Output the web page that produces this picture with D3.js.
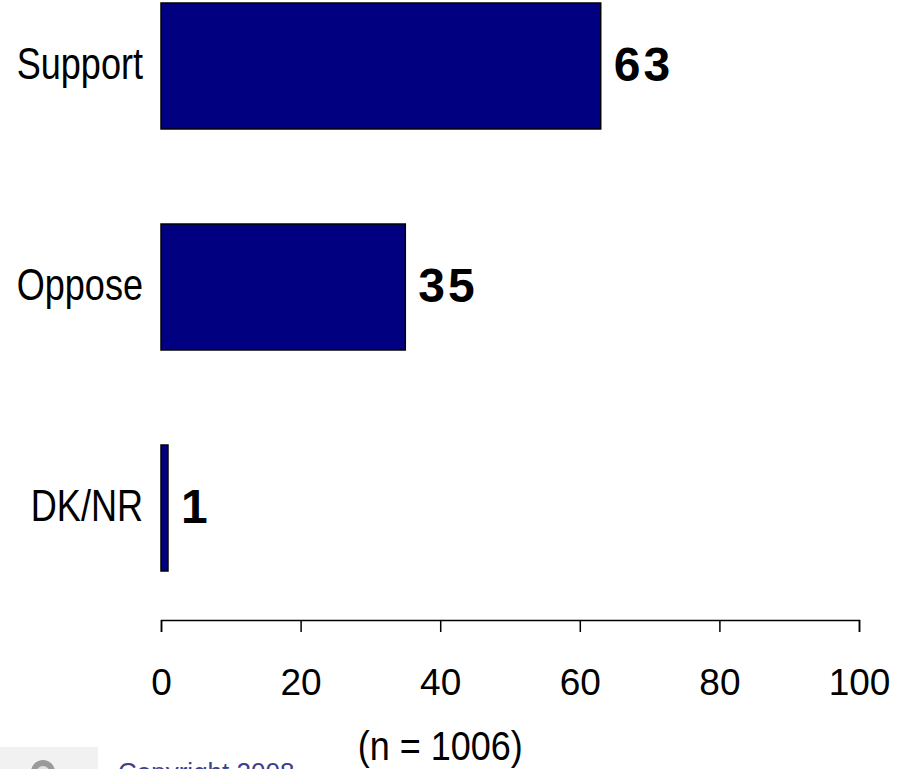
<!DOCTYPE html>
<html><head><meta charset="utf-8">
<script src="https://cdn.jsdelivr.net/npm/d3@7"></script>
<style>
html,body{margin:0;padding:0;background:#fff;}
svg{display:block;}
</style></head>
<body>
<svg id="chart" width="897" height="769"></svg>
<script>
const categories = ["Support", "Oppose", "DK/NR"];
const values = [63, 35, 1];
const tickValues = [0, 20, 40, 60, 80, 100];
const sampleLabel = "(n = 1006)";
const copyright = "Copyright 2008";

const svg = d3.select("#chart");
const x = d3.scaleLinear().domain([0, 100]).range([161, 859]);
const y = d3.scaleBand().domain(categories).range([3, 571]).paddingInner(0.43).paddingOuter(0);
const narrow = 0.82;

// bars
svg.append("g").selectAll("rect").data(categories).join("rect")
  .attr("x", x(0))
  .attr("y", d => y(d))
  .attr("width", (d, i) => x(values[i]) - x(0))
  .attr("height", y.bandwidth())
  .attr("fill", "#000080")
  .attr("stroke", "#000")
  .attr("stroke-width", 1.5);

// value labels
svg.append("g").selectAll("text").data(categories).join("text")
  .attr("x", (d, i) => x(values[i]) + 13)
  .attr("y", d => y(d) + y.bandwidth() / 2 + 15)
  .attr("font-family", "Liberation Sans, Arial, sans-serif")
  .attr("font-weight", "bold")
  .attr("font-size", 48)
  .attr("letter-spacing", 3)
  .attr("fill", "#000")
  .text((d, i) => values[i]);

// category labels (narrow face emulated by horizontal scaling)
svg.append("g").selectAll("text").data(categories).join("text")
  .attr("transform", d => `translate(143,${y(d) + y.bandwidth() / 2 + 13}) scale(${narrow},1)`)
  .attr("text-anchor", "end")
  .attr("font-family", "Liberation Sans, Arial, sans-serif")
  .attr("font-size", 44)
  .attr("fill", "#000")
  .text(d => d);

// axis
const axis = d3.axisBottom(x).tickValues(tickValues).tickSize(12).tickPadding(37);
const gA = svg.append("g").attr("transform", "translate(0,620)").call(axis);
gA.selectAll("path,line").attr("stroke", "#000").attr("stroke-width", 1.5);
gA.selectAll("text")
  .attr("font-family", "Liberation Sans, Arial, sans-serif")
  .attr("font-size", 37)
  .attr("fill", "#000");

// sample size label
svg.append("text")
  .attr("transform", `translate(${x(40)},760) scale(0.9,1)`)
  .attr("text-anchor", "middle")
  .attr("font-family", "Liberation Sans, Arial, sans-serif")
  .attr("font-size", 40)
  .attr("fill", "#000")
  .text(sampleLabel);

// logo & copyright (partially cut off by the bottom edge, as in the source)
const logo = svg.append("g");
logo.append("rect").attr("x", 0).attr("y", 747).attr("width", 98).attr("height", 22).attr("fill", "#f1f1f1");
logo.append("ellipse").attr("cx", 43).attr("cy", 772).attr("rx", 12).attr("ry", 12).attr("fill", "#9a9a9a");
logo.append("ellipse").attr("cx", 43).attr("cy", 774).attr("rx", 7).attr("ry", 8).attr("fill", "#e0e0e0");
svg.append("text")
  .attr("x", 118)
  .attr("y", 781)
  .attr("font-family", "Liberation Sans, Arial, sans-serif")
  .attr("font-size", 26)
  .attr("fill", "#3b3f8c")
  .text(copyright);
</script>
</body></html>
